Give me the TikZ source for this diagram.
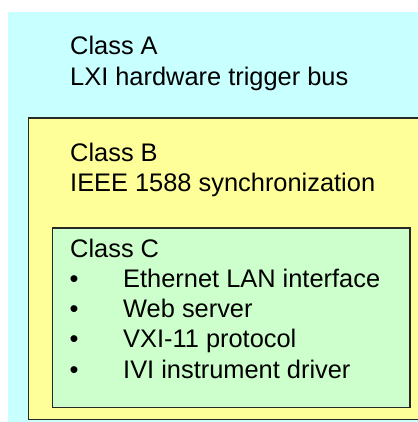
\documentclass[tikz,border=0pt]{standalone}
\usepackage{fontspec}
\setmainfont{Liberation Sans}
\usepackage{tikz}
\usetikzlibrary{positioning}
\definecolor{clsacyan}{RGB}{200,255,255}
\definecolor{clsbyellow}{RGB}{255,255,153}
\definecolor{clscgreen}{RGB}{204,255,204}
\definecolor{edgegray}{RGB}{40,40,40}

\tikzset{
  classbox/.style={draw=edgegray,line width=1.4pt},
  txt/.style={anchor=base west,inner sep=0pt,font=\fontsize{25.4}{30}\selectfont},
  dot/.style={anchor=base,inner sep=0pt,font=\fontsize{25.4}{30}\selectfont}
}

\begin{document}
\begin{tikzpicture}[x=1pt,y=1pt]
        \useasboundingbox (0,0) rectangle (417,422);
        % nested class areas
        \fill[clsacyan] (8,0) rectangle (425,410);
        \draw[classbox,fill=clsbyellow] (28.3,2.5) rectangle (430,304);
        \draw[classbox,fill=clscgreen] (52.3,14.7) rectangle (410,194);
        % class A
        \node[txt] (clsA) at (70,367) {Class A};
        \node[txt] (trigbus) at (70,336) {LXI hardware trigger bus};
        % class B
        \node[txt] (clsB) at (70,260) {Class B};
        \node[txt] (ieee) at (70,230) {IEEE 1588 synchronization};
        % class C
        \node[txt] (clsC) at (70,164) {Class C};
        \foreach \name/\yy/\item in {lan/134.5/Ethernet LAN interface,web/104.5/Web server,vxi/74.5/VXI-11 protocol,ivi/43.5/IVI instrument driver}{
          \node[dot] (dot-\name) at (74,\yy) {•};
          \node[txt] (\name) at (123,\yy) {\item};
        }
      \end{tikzpicture}
\end{document}
